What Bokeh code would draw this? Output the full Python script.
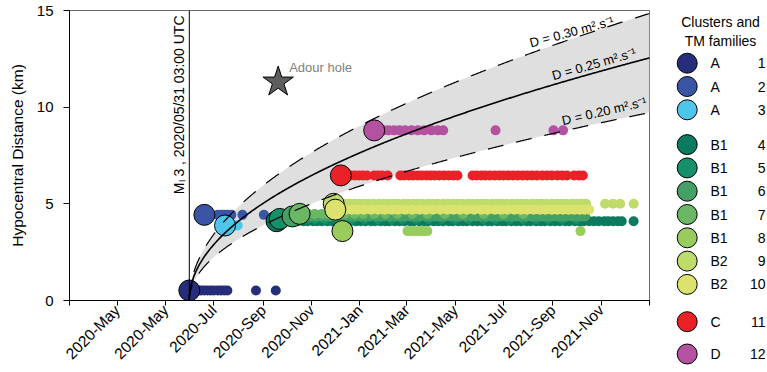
import math
import numpy as np
import pandas as pd
from bokeh.plotting import figure
from bokeh.models import Range1d, FixedTicker, Span
from bokeh.layouts import row
from bokeh.embed import file_html
from bokeh.resources import INLINE
from bokeh.core.properties import value

FONT = "Liberation Sans"

# ---------------- data ----------------
event_date = "2020-05-31"
event_label = "M\u2097 3 , 2020/05/31 03:00 UTC"

tick_dates = ["2020-01-01", "2020-03-01", "2020-05-01", "2020-07-01", "2020-09-01",
              "2020-11-01", "2021-01-01", "2021-03-01", "2021-05-01", "2021-07-01",
              "2021-09-01", "2021-11-01", "2022-01-01"]
tick_labels = ["", "2020-May", "2020-May", "2020-Jul", "2020-Sep", "2020-Nov",
               "2021-Jan", "2021-Mar", "2021-May", "2021-Jul", "2021-Sep", "2021-Nov", ""]
y_ticks = [0, 5, 10, 15]

families = [1, 2, 3, 4, 5, 6, 7, 8, 9, 10, 11, 12]
clusters = ["A", "A", "A", "B1", "B1", "B1", "B1", "B1", "B2", "B2", "C", "D"]
colors = ["#262d7a", "#3a55a5", "#4ec6ec", "#0c7a5e", "#16906a", "#45a066",
          "#6ab764", "#98cd5e", "#bfdb6a", "#dbe36e", "#ea2227", "#b451a1"]
# hypocentral distance of each family (km)
distance_km = [0.52, 4.43, 3.88, 4.10, 4.22, 4.35, 4.48, 3.59, 5.00, 4.70, 6.47, 8.80]
# day (after the M3 event) of the first event of each family
first_day = [0, 19, 45, 110, 114, 130, 139, 193, 182, 184, 191, 233]

# days (after the M3 event) of the repeating events of each family
f1_days = [4, 8, 12, 15, 19, 23, 27, 31, 36, 40, 44, 48, 84, 109]
f2_days = [36, 40, 44, 48, 53, 67, 94]
f3_days = [58, 61]
f4_days = [120, 126, 131, 137, 144, 149, 156, 161, 167, 174, 180, 185, 192, 198, 203,
           210, 216, 222, 229, 234, 241, 247, 252, 259, 265, 271, 278, 283, 290, 296,
           301, 308, 314, 320, 327, 332, 339, 345, 350, 357, 363, 369, 376, 381, 388,
           394, 399, 406, 412, 418, 425, 430, 437, 443, 448, 455, 461, 467, 474, 479,
           486, 492, 497, 504, 510, 516, 523, 528, 534, 540, 545, 560]
f5_days = [124, 133, 147, 158, 171, 189, 205, 221, 238, 255, 268, 286, 302, 318, 335,
           352, 371, 386, 404, 421, 437, 452, 470, 488]
f6_days = [142, 148, 153, 159, 166, 172, 178, 185, 190, 197, 204, 209, 216, 222, 228,
           235, 241, 246, 253, 260, 266, 272, 279, 284, 291, 298, 303, 310, 317, 322,
           329, 336, 341, 348, 355, 361, 367, 374, 380, 387, 393, 399, 406, 412, 418,
           425, 431, 437, 444, 451, 457, 463, 470, 476, 483, 489, 495, 499]
f7_days = [150, 158, 167, 175, 184, 196, 208, 219, 233, 247, 262, 281, 300, 322, 345,
           371, 396, 421]
f8_days = [275, 280, 285, 290, 295, 300, 493]
f9_days = [196, 202, 208, 214, 220, 226, 232, 239, 245, 251, 257, 263, 270, 276, 282,
           288, 294, 301, 307, 313, 320, 326, 332, 338, 344, 351, 357, 363, 369, 375,
           382, 388, 394, 400, 407, 413, 419, 425, 432, 438, 444, 450, 457, 463, 469,
           475, 482, 488, 494, 500, 524, 534, 543, 560]
f10_days = [197, 205, 212, 220, 229, 238, 246, 255, 263, 272, 281, 290, 298, 307, 316,
            325, 333, 341, 350, 359, 368, 376, 385, 393, 401, 410, 418, 426, 434, 442,
            449, 457, 464, 471, 478, 485, 492, 498, 504]
f11_days = [204, 209, 214, 219, 224, 233, 238, 243, 250, 266, 271, 277, 282, 288, 293,
            299, 304, 309, 315, 321, 327, 333, 338, 357, 362, 368, 373, 379, 385, 391,
            396, 402, 408, 414, 420, 426, 432, 438, 445, 451, 457, 464, 470, 476, 485,
            491, 496]
f12_days = [245, 251, 258, 265, 272, 280, 288, 296, 305, 313, 320, 386, 459, 471]
repeat_days = [f1_days, f2_days, f3_days, f4_days, f5_days, f6_days, f7_days, f8_days,
               f9_days, f10_days, f11_days, f12_days]

hole_label = "Adour hole"
hole_day = 112
hole_km = 11.3

# diffusivity curves: labels as printed, D values that the drawn curves follow
curve_labels = ["D = 0.30 m\u00b2.s\u207b\u00b9", "D = 0.25 m\u00b2.s\u207b\u00b9",
                "D = 0.20 m\u00b2.s\u207b\u00b9"]
curve_D = [0.35, 0.25, 0.15]
curve_label_day = [482, 510, 523]

# ---------------- figure ----------------
ev = pd.Timestamp(event_date)
tick_days = [(pd.Timestamp(d) - ev).days for d in tick_dates]


def radius_km(D, d):
    return np.sqrt(4 * np.pi * D * np.asarray(d, dtype=float) * 86400.0) / 1000.0


MAIN_W, LEG_W, H = 651, 116, 372

p = figure(width=MAIN_W, height=H, x_range=Range1d(tick_days[0], tick_days[-1]),
           y_range=Range1d(0, 15), output_backend="svg", toolbar_location=None,
           min_border_left=69, min_border_right=2, min_border_top=10,
           min_border_bottom=72)
p.frame_align = False
p.grid.visible = False
p.outline_line_color = "#6a6a6a"
p.background_fill_color = "white"
p.border_fill_color = "white"

p.xaxis.ticker = FixedTicker(ticks=tick_days)
p.xaxis.major_label_overrides = {d: lab for d, lab in zip(tick_days, tick_labels)}
p.xaxis.major_label_orientation = math.pi / 4
p.xaxis.major_label_text_font_size = "15.5px"
p.xaxis.major_label_standoff = 2
p.xaxis.major_tick_out = 5
p.xaxis.major_tick_in = 0

p.yaxis.ticker = FixedTicker(ticks=y_ticks)
p.yaxis.major_label_text_font_size = "15px"
p.yaxis.major_tick_out = 6
p.yaxis.major_tick_in = 0
p.yaxis.major_label_standoff = 10
p.yaxis.axis_label = "Hypocentral Distance (km)"
p.yaxis.axis_label_text_font_size = "15.5px"
p.yaxis.axis_label_text_font_style = "normal"
p.yaxis.axis_label_standoff = 8
for ax in (p.xaxis, p.yaxis):
    ax.minor_tick_line_color = None
    ax.axis_line_color = "black"
    ax.major_tick_line_color = "black"
    ax.major_label_text_font = FONT
    ax.major_label_text_color = "black"
    ax.axis_label_text_font = FONT
    ax.axis_label_text_color = "black"

days = np.concatenate([np.linspace(0, 3, 80), np.linspace(3, tick_days[-1], 600)])
p.varea(x=days, y1=radius_km(curve_D[2], days), y2=radius_km(curve_D[0], days),
        fill_color="#dfdfdf")

# repeating events
for fam, col, dist, ds in zip(families, colors, distance_km, repeat_days):
    p.scatter(x=ds, y=[dist] * len(ds), size=10, marker="circle",
              fill_color=col, line_color=None)
# first event of each family
for fam, col, dist, d0 in zip(families, colors, distance_km, first_day):
    p.scatter(x=[d0], y=[dist], size=21, marker="circle", fill_color=col,
              line_color="black", line_width=1)

# event line
p.add_layout(Span(location=0, dimension="height", line_color="black", line_width=1))

# diffusion curves
p.line(days, radius_km(curve_D[1], days), line_color="black", line_width=1.6)
for D in (curve_D[0], curve_D[2]):
    p.line(days, radius_km(D, days), line_color="black", line_width=1.2,
           line_dash="16 13")

angles = [15, 16, 13]
offsets = [7, 9, 11]
for lab, D, d, a, off in zip(curve_labels, curve_D, curve_label_day, angles, offsets):
    p.text(x=[d], y=[float(radius_km(D, d))], text=[lab], angle=a, angle_units="deg",
           text_align="center", text_baseline="middle", y_offset=-off,
           text_font=value(FONT), text_font_size="13px", text_color="black")

p.text(x=[0], y=[15], text=[event_label], angle=math.pi / 2, text_align="right",
       text_baseline="bottom", x_offset=-2, y_offset=5, text_font=value(FONT),
       text_font_size="14px", text_color="black")

p.scatter(x=[hole_day], y=[hole_km], marker="star", size=32, fill_color="#5e5e5e",
          line_color="black", line_width=1)
p.text(x=[hole_day], y=[hole_km], text=[hole_label], text_align="left",
       text_baseline="middle", x_offset=11, y_offset=-15, text_font=value(FONT),
       text_font_size="13px", text_color="#808080")

# ---------------- legend ----------------
leg = figure(width=LEG_W, height=H, x_range=Range1d(0, LEG_W), y_range=Range1d(H, 0),
             output_backend="svg", toolbar_location=None, x_axis_type=None,
             y_axis_type=None, min_border=0)
leg.frame_align = False
leg.grid.visible = False
leg.outline_line_color = None

pitch = 23.3
gap_before = {3: 11.5, 10: 14.0, 11: 9.0}
ys = []
y = 62.7
for i in range(len(families)):
    if i > 0:
        y += pitch + gap_before.get(i, 0.0)
    ys.append(y)

x_circle, x_letter, x_number, x_title = 35.7, 59, 114, 69
leg.scatter(x=[x_circle] * len(ys), y=ys, size=20, marker="circle", fill_color=colors,
            line_color="black", line_width=1)
leg.text(x=[x_letter] * len(ys), y=ys, text=clusters, text_align="left",
         text_baseline="middle", text_font=value(FONT), text_font_size="14px",
         text_color="black")
leg.text(x=[x_number] * len(ys), y=ys, text=[str(f) for f in families],
         text_align="right", text_baseline="middle", text_font=value(FONT),
         text_font_size="14px", text_color="black")
leg.text(x=[x_title, x_title], y=[21.7, 40], text=["Clusters and", "TM families"],
         text_align="center", text_baseline="middle", text_font=value(FONT),
         text_font_size="14px", text_color="black")

layout = row(p, leg)
open("out.html", "w").write(file_html(layout, INLINE))
